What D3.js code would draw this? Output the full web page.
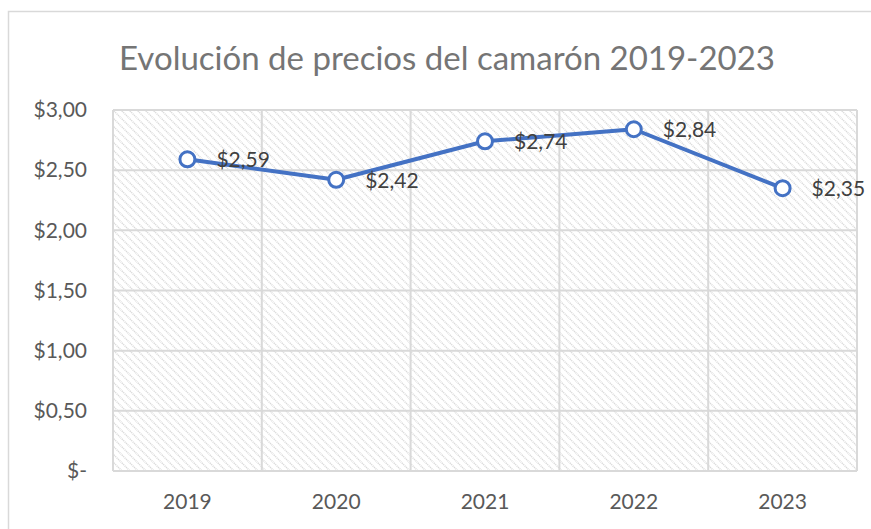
<!DOCTYPE html>
<html lang="es">
<head>
<meta charset="UTF-8">
<title>Evolución de precios del camarón</title>
<script src="https://d3js.org/d3.v7.min.js"></script>
<style>
  body { margin: 0; background: #fff; }
  svg text { font-family: Lato, "Open Sans", sans-serif; }
</style>
</head>
<body>
<div id="chart"></div>
<script>
// data
const years = ["2019", "2020", "2021", "2022", "2023"];
const prices = [2.59, 2.42, 2.74, 2.84, 2.35];
const yTicks = [0, 0.5, 1, 1.5, 2, 2.5, 3];
const title = "Evolución de precios del camarón 2019-2023";

const W = 871, H = 529;
const margin = { top: 110, right: 14, bottom: 58, left: 113 };
const width = W - margin.left - margin.right,
      height = H - margin.top - margin.bottom;

const svg = d3.select("#chart").append("svg")
    .attr("width", W)
    .attr("height", H);

// outer chart frame
svg.append("rect")
    .attr("x", 8.5).attr("y", 11.5)
    .attr("width", W + 20).attr("height", H + 20)
    .attr("fill", "#fff")
    .attr("stroke", "#d9d9d9")
    .attr("stroke-width", 1.5);

// hatch pattern for plot area
const defs = svg.append("defs");
const pat = defs.append("pattern")
    .attr("id", "hatch")
    .attr("patternUnits", "userSpaceOnUse")
    .attr("width", 8).attr("height", 8);
pat.append("rect").attr("width", 8).attr("height", 8).attr("fill", "#fff");
pat.append("path")
    .attr("d", "M-2,-2 L10,10 M-2,6 L2,10 M6,-2 L10,2")
    .attr("stroke", "#dadada")
    .attr("stroke-width", 1.5)
    .attr("stroke-dasharray", "1.2,0.8");

// title
svg.append("text")
    .attr("x", 447).attr("y", 70)
    .attr("text-anchor", "middle")
    .attr("font-size", "33px")
    .attr("fill", "#757575")
    .text(title);

const g = svg.append("g")
    .attr("transform", `translate(${margin.left},${margin.top})`);

const x = d3.scaleBand().domain(years).range([0, width]);
const y = d3.scaleLinear().domain([0, 3]).range([height, 0]);

g.append("rect")
    .attr("width", width).attr("height", height)
    .attr("fill", "url(#hatch)");

// horizontal grid
g.append("g").selectAll("line")
    .data(yTicks)
    .join("line")
    .attr("x1", 0).attr("x2", width)
    .attr("y1", d => y(d)).attr("y2", d => y(d))
    .attr("stroke", "#d9d9d9")
    .attr("stroke-width", 2);

// vertical grid at band edges
g.append("g").selectAll("line")
    .data(years.concat(["end"]))
    .join("line")
    .attr("x1", (d, i) => i * x.step()).attr("x2", (d, i) => i * x.step())
    .attr("y1", 0).attr("y2", height)
    .attr("stroke", "#d9d9d9")
    .attr("stroke-width", 2);

const fmt = v => "$" + d3.format(".2f")(v).replace(".", ",");

// y axis labels
const yAxis = g.append("g")
    .attr("transform", "translate(-26,0)")
    .call(d3.axisLeft(y).tickValues(yTicks).tickSize(0).tickPadding(0)
        .tickFormat(d => d === 0 ? "$-" : fmt(d)));
yAxis.select(".domain").remove();
yAxis.selectAll("text")
    .attr("font-size", "21px")
    .attr("fill", "#595959")
    .style("font-family", "Lato, 'Open Sans', sans-serif");

// x axis labels
const xAxis = g.append("g")
    .attr("transform", `translate(0,${height})`)
    .call(d3.axisBottom(x).tickSize(0).tickPadding(23));
xAxis.select(".domain").remove();
xAxis.selectAll("text")
    .attr("font-size", "21px")
    .attr("fill", "#595959")
    .style("font-family", "Lato, 'Open Sans', sans-serif");

const cx = d => x(d) + x.bandwidth() / 2;

// line
g.append("path")
    .datum(years.map((d, i) => [cx(d), y(prices[i])]))
    .attr("d", d3.line())
    .attr("fill", "none")
    .attr("stroke", "#4472c4")
    .attr("stroke-width", 4)
    .attr("stroke-linejoin", "round");

// markers
g.selectAll("circle.pt")
    .data(years)
    .join("circle")
    .attr("class", "pt")
    .attr("cx", d => cx(d))
    .attr("cy", (d, i) => y(prices[i]))
    .attr("r", 7.5)
    .attr("fill", "#fff")
    .attr("stroke", "#4472c4")
    .attr("stroke-width", 3);

// data labels
g.selectAll("text.lbl")
    .data(years)
    .join("text")
    .attr("class", "lbl")
    .attr("x", d => cx(d) + 29)
    .attr("y", (d, i) => y(prices[i]) + 8)
    .attr("font-size", "21px")
    .attr("fill", "#404040")
    .text((d, i) => fmt(prices[i]));
</script>
</body>
</html>
